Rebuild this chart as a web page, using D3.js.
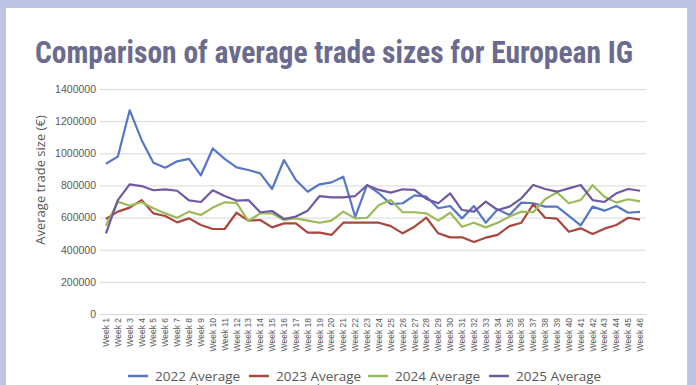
<!DOCTYPE html>
<html>
<head>
<meta charset="utf-8">
<script src="https://cdn.jsdelivr.net/npm/d3@7"></script>
<style>
  body { margin: 0; background: #bec4e4; }
  svg { display: block; }
</style>
</head>
<body>
<script>
const panel_width = 696;
const panel_height = 385;

// weeks + series
const weeks = d3.range(1, 47).map(d => "Week " + d);
const avg2022 = [935000, 979000, 1268000, 1083000, 941000, 910000, 950000, 965000, 863000, 1030000,
    965000, 912000, 896000, 875000, 778000, 958000, 834000, 761000, 807000, 819000,
    854000, 605000, 803000, 751000, 684000, 689000, 738000, 730000, 658000, 672000,
    595000, 672000, 568000, 651000, 616000, 693000, 689000, 668000, 668000, 610000,
    552000, 668000, 643000, 672000, 630000, 635000];
const avg2023 = [591000, 637000, 662000, 709000, 626000, 610000, 570000, 595000, 554000, 529000,
    529000, 630000, 581000, 585000, 539000, 564000, 564000, 506000, 506000, 492000,
    568000, 568000, 568000, 568000, 547000, 502000, 543000, 599000, 502000, 477000,
    477000, 448000, 475000, 492000, 547000, 568000, 683000, 599000, 593000, 512000,
    533000, 498000, 531000, 554000, 599000, 587000];
const avg2024 = [549000, 699000, 674000, 695000, 658000, 626000, 599000, 637000, 616000, 662000,
    695000, 692000, 579000, 626000, 626000, 585000, 595000, 581000, 568000, 581000,
    637000, 595000, 599000, 678000, 709000, 633000, 633000, 626000, 581000, 630000,
    543000, 568000, 539000, 568000, 606000, 637000, 633000, 714000, 757000, 689000,
    709000, 801000, 730000, 693000, 714000, 701000];
const avg2025 = [502000, 709000, 807000, 796000, 770000, 776000, 767000, 707000, 697000, 770000,
    734000, 706000, 709000, 633000, 641000, 591000, 606000, 643000, 734000, 726000,
    726000, 734000, 801000, 772000, 755000, 776000, 772000, 716000, 689000, 751000,
    647000, 637000, 699000, 647000, 668000, 720000, 803000, 778000, 761000, 782000,
    803000, 709000, 697000, 751000, 778000, 767000];
const seriesNames = ["2022 Average", "2023 Average", "2024 Average", "2025 Average"];
const seriesColors = ["#5677c6", "#a9473d", "#9bbb59", "#7059a3"];
const yTicks = [0, 200000, 400000, 600000, 800000, 1000000, 1200000, 1400000];

window.addEventListener("load", makeChart);

function makeChart() {
    const svg = d3.select("body")
        .append("svg")
        .attr("width", panel_width)
        .attr("height", panel_height);

    // white card on the lavender frame
    svg.append("rect")
        .attr("x", 6)
        .attr("y", 8)
        .attr("width", 681)
        .attr("height", 400)
        .attr("fill", "white");

    svg.append("text")
        .attr("x", 35)
        .attr("y", 63)
        .attr("font-family", "'Liberation Sans Narrow', 'Roboto Condensed', 'Liberation Sans', sans-serif")
        .attr("font-weight", "bold")
        .attr("font-size", "31px")
        .attr("fill", "#6a6b8e")
        .attr("textLength", 598)
        .attr("lengthAdjust", "spacingAndGlyphs")
        .text("Comparison of average trade sizes for European IG");

    const x = d3.scaleBand()
        .domain(weeks)
        .range([100, 646]);

    const y = d3.scaleLinear()
        .domain([0, 1400000])
        .range([314, 89]);

    // gridlines
    svg.append("g")
        .selectAll("line")
        .data(yTicks)
        .join("line")
        .attr("x1", 100)
        .attr("x2", 646)
        .attr("y1", d => y(d) + 0.5)
        .attr("y2", d => y(d) + 0.5)
        .attr("stroke", "#d9d9d9")
        .attr("stroke-width", 1);

    const yAxis = svg.append("g")
        .attr("transform", "translate(100,0)")
        .call(d3.axisLeft(y).tickValues(yTicks).tickSize(0).tickPadding(4).tickFormat(d3.format("d")));
    yAxis.select(".domain").remove();
    yAxis.selectAll("text")
        .attr("font-family", "'Liberation Sans', Arial, sans-serif")
        .attr("font-size", "10.5px")
        .attr("fill", "#595959");

    const xAxis = svg.append("g")
        .attr("transform", "translate(0,314)")
        .call(d3.axisBottom(x).tickSize(0).tickPadding(0));
    xAxis.select(".domain").remove();
    xAxis.selectAll("text")
        .attr("font-family", "'Liberation Sans', Arial, sans-serif")
        .attr("font-size", "8.5px")
        .attr("fill", "#595959")
        .attr("text-anchor", "end")
        .attr("dy", null)
        .attr("transform", "translate(3,4) rotate(-90)");

    svg.append("text")
        .attr("transform", "translate(45,180) rotate(-90)")
        .attr("text-anchor", "middle")
        .attr("font-family", "'Open Sans', 'Liberation Sans', sans-serif")
        .attr("font-size", "13px")
        .attr("fill", "#595959")
        .text("Average trade size (€)");

    const line = d3.line()
        .x((d, i) => x(weeks[i]) + x.bandwidth() / 2)
        .y(d => y(d));

    [avg2022, avg2023, avg2024, avg2025].forEach((vals, k) => {
        svg.append("path")
            .datum(vals)
            .attr("d", line)
            .attr("fill", "none")
            .attr("stroke", seriesColors[k])
            .attr("stroke-width", 2.2)
            .attr("stroke-linejoin", "round");
    });

    // legend, second line ("trade size") is clipped by the picture edge
    const legendX = [128, 249, 368, 489];
    seriesNames.forEach((name, k) => {
        const g = svg.append("g");
        g.append("line")
            .attr("x1", legendX[k])
            .attr("x2", legendX[k] + 20)
            .attr("y1", 376)
            .attr("y2", 376)
            .attr("stroke", seriesColors[k])
            .attr("stroke-width", 2.5);
        g.append("text")
            .attr("x", legendX[k] + 27)
            .attr("y", 381)
            .attr("font-family", "'Open Sans', 'Liberation Sans', sans-serif")
            .attr("font-size", "13.5px")
            .attr("fill", "#595959")
            .text(name);
        g.append("text")
            .attr("x", legendX[k] + 45)
            .attr("y", 394)
            .attr("font-family", "'Open Sans', 'Liberation Sans', sans-serif")
            .attr("font-size", "13.5px")
            .attr("fill", "#595959")
            .text("trade size");
    });

    // lavender frame on top (right side strip)
    svg.append("rect")
        .attr("x", 687)
        .attr("y", 0)
        .attr("width", 9)
        .attr("height", panel_height)
        .attr("fill", "#bec4e4");
}
</script>
</body>
</html>
